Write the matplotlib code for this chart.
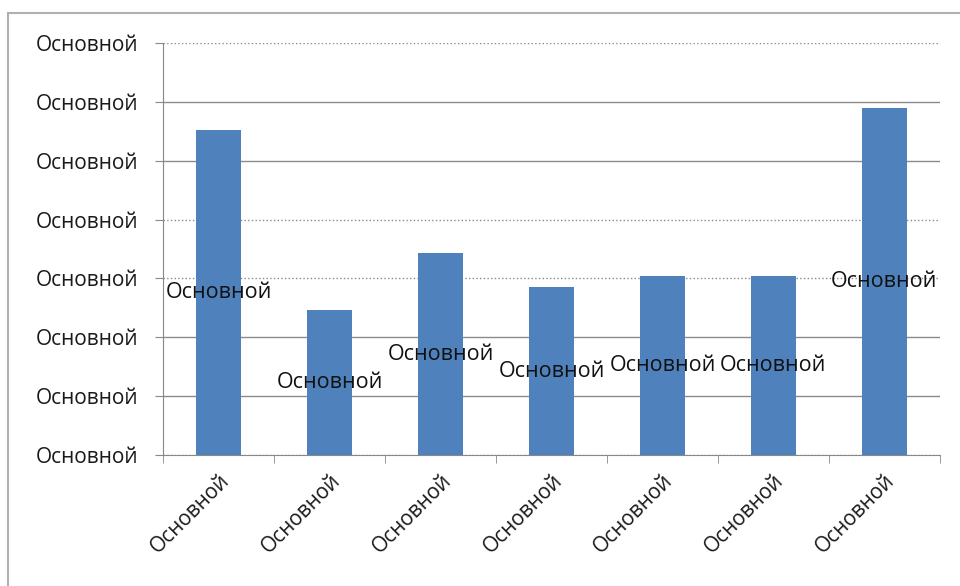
import matplotlib.pyplot as plt
from matplotlib.patches import Rectangle

plt.rcParams['font.family'] = ['Open Sans', 'DejaVu Sans']

# данные
categories = ["Основной"] * 7
values = [5.52, 2.46, 3.43, 2.85, 3.04, 3.04, 5.9]
y_ticks = [0, 1, 2, 3, 4, 5, 6, 7]
y_labels = ["Основной"] * 8
bar_labels = ["Основной"] * 7

fig = plt.figure(figsize=(9.6, 5.86), dpi=100)
ax = fig.add_axes([0.170, 0.2235, 0.809, 0.7031])

# рамка диаграммы
fig.patches.append(Rectangle((8 / 960, -0.1), 1.2, 1 - 13 / 586 + 0.1,
                             transform=fig.transFigure, fill=False,
                             edgecolor="#b0b0b0", lw=1.5))

x = list(range(len(values)))
bars = ax.bar(x, values, width=0.4, color="#4f81bd", zorder=3)
ax.bar_label(bars, labels=bar_labels, label_type="center", fontsize=15.5,
             color="#111111", zorder=4)

ax.set_xlim(-0.5, len(values) - 0.5)
ax.set_ylim(0, 7)
ax.set_yticks(y_ticks)
ax.set_yticklabels(y_labels, fontsize=15, color="#1a1a1a")
ax.set_xticks(x)
ax.set_xticklabels(categories, rotation=45, ha="right", rotation_mode="anchor",
                   fontsize=15, color="#1a1a1a")
ax.tick_params(axis="x", length=0, pad=11)
ax.tick_params(axis="y", length=6, color="#888888", pad=12)

# засечки между категориями
ax.set_xticks([i - 0.5 for i in range(len(values) + 1)], minor=True)
ax.tick_params(axis="x", which="minor", length=6, color="#888888")

ax.yaxis.grid(True, color="#8a8a8a", lw=1, zorder=0)
styles = [":", "-", "-", ":", ":", "-", "-", ":"]
for gl, st in zip(ax.get_ygridlines(), styles):
    gl.set_linestyle(st)

for s in ["top", "right"]:
    ax.spines[s].set_visible(False)
ax.spines["left"].set_color("#888888")
ax.spines["bottom"].set_color("#888888")

fig.savefig("out.png", dpi=100)
